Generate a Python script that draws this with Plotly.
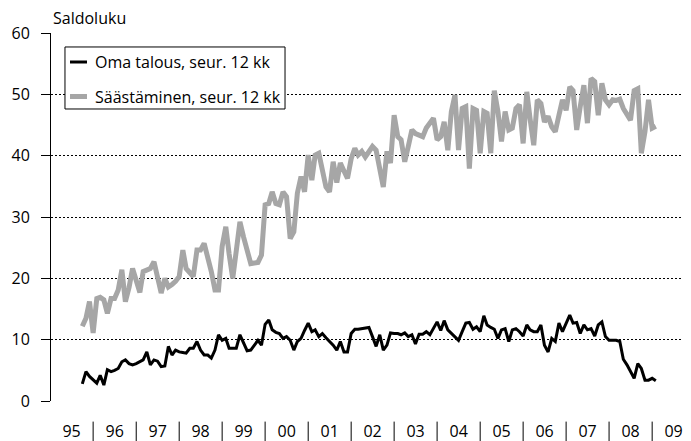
import pandas as pd
import plotly.graph_objects as go

# Monthly balance figures, Oct 1995 - Feb 2009
start_month = "1995-10-01"

oma_talous = [
    2.8, 4.8, 4.0, 3.4, 2.9, 4.2, 2.6, 5.1, 4.8, 5.0, 5.3, 6.4, 6.7, 6.1, 5.9, 6.1,
    6.4, 6.7, 8.0, 5.9, 6.7, 6.5, 5.6, 5.7, 8.9, 7.5, 8.3, 8.0, 7.9, 7.8, 8.6, 8.6,
    9.7, 8.3, 7.5, 7.5, 7.0, 8.3, 10.8, 9.9, 10.2, 8.6, 8.6, 8.6, 10.8, 9.5, 8.2, 8.3,
    9.0, 9.9, 9.1, 12.5, 13.2, 11.6, 11.2, 11.0, 10.2, 10.5, 9.9, 8.3, 9.7, 10.2, 11.5, 12.7,
    11.3, 11.6, 10.5, 11.0, 10.3, 9.7, 9.1, 8.3, 9.7, 8.0, 8.0, 11.0, 11.7, 11.7, 11.8, 11.8,
    12.0, 10.5, 8.9, 10.8, 8.3, 9.1, 11.1, 11.0, 11.0, 10.8, 11.1, 10.5, 10.8, 9.3, 10.9, 10.9,
    11.3, 10.8, 11.8, 12.9, 11.5, 13.1, 11.6, 11.0, 10.5, 9.9, 11.3, 12.7, 12.8, 11.7, 12.1, 11.3,
    13.9, 12.4, 12.0, 11.7, 10.2, 11.6, 11.8, 9.7, 11.6, 11.8, 11.3, 10.6, 12.4, 11.6, 11.3, 11.3,
    12.4, 9.1, 8.0, 10.2, 9.7, 12.7, 11.3, 12.7, 14.0, 12.7, 12.8, 11.0, 12.4, 11.6, 11.8, 10.6,
    12.4, 12.9, 10.5, 9.9, 9.9, 9.9, 9.7, 6.8, 5.9, 4.8, 3.7, 6.1, 5.3, 3.4, 3.4, 3.7,
    3.3,
]

saastaminen = [
    12.2, 13.5, 16.2, 11.1, 16.7, 16.9, 16.5, 14.3, 16.7, 16.7, 18.1, 21.4, 16.2, 18.5, 21.6, 19.7,
    17.7, 21.1, 21.3, 21.6, 22.7, 20.3, 17.6, 20.0, 18.6, 19.0, 19.5, 20.3, 24.6, 21.6, 21.0, 20.3,
    24.6, 24.6, 25.7, 23.5, 21.1, 18.1, 18.1, 25.2, 28.4, 24.0, 20.0, 24.5, 29.2, 26.8, 24.5, 22.4,
    22.5, 22.6, 23.8, 32.0, 32.2, 34.1, 32.2, 32.0, 34.1, 33.3, 26.5, 27.6, 33.9, 36.6, 34.1, 40.1,
    36.0, 40.1, 40.4, 37.5, 34.9, 34.1, 39.0, 35.6, 38.8, 37.5, 36.3, 39.5, 41.2, 40.1, 40.7, 39.8,
    40.6, 41.5, 40.9, 38.0, 34.9, 40.7, 38.8, 46.6, 43.1, 42.6, 39.0, 41.5, 44.2, 43.6, 43.4, 43.1,
    44.5, 45.3, 46.1, 42.6, 43.1, 45.5, 40.9, 47.2, 49.9, 40.9, 47.7, 48.0, 37.9, 47.7, 47.4, 40.4,
    47.2, 46.9, 40.4, 50.6, 47.2, 42.3, 47.2, 44.2, 44.5, 47.7, 48.3, 42.0, 50.4, 46.0, 41.7, 49.1,
    48.5, 45.5, 46.4, 44.7, 43.9, 46.6, 49.1, 47.4, 51.2, 50.6, 44.2, 48.0, 51.5, 45.3, 52.6, 52.1,
    46.6, 51.8, 49.1, 48.3, 49.1, 49.0, 49.2, 47.7, 46.8, 45.8, 50.6, 50.9, 40.4, 43.9, 49.1, 44.5,
    44.8,
]

year_labels = ["95", "96", "97", "98", "99", "00", "01", "02", "03", "04", "05", "06", "07", "08", "09"]
years = list(range(1995, 2010))
y_ticks = [0, 10, 20, 30, 40, 50, 60]

series_names = ["Oma talous, seur. 12 kk", "Säästäminen, seur. 12 kk"]
series_colors = ["#000000", "#a6a6a6"]
series_widths = [3, 5]

dates = pd.date_range(start_month, periods=len(oma_talous), freq="MS")

FONT = "Open Sans"

fig = go.Figure()
for name, vals, col, w in zip(series_names, [oma_talous, saastaminen], series_colors, series_widths):
    fig.add_trace(go.Scatter(
        x=dates, y=vals, mode="lines", name=name,
        line=dict(color=col, width=w), showlegend=False,
    ))

# year separators between the x labels
for yr in years[1:]:
    fig.add_shape(
        type="line", xref="x", yref="paper",
        x0=f"{yr}-01-01", x1=f"{yr}-01-01", y0=-0.056, y1=-0.12,
        line=dict(color="#000000", width=1),
    )

# legend box (drawn manually to match the compact reference legend)
fig.add_shape(
    type="rect", xref="paper", yref="paper",
    x0=0.0219, x1=0.3668, y0=0.7935, y1=0.962,
    line=dict(color="#000000", width=1), fillcolor="white", layer="above",
)
row_y = [0.9212, 0.8274]
for name, col, w, ry in zip(series_names, series_colors, series_widths, row_y):
    fig.add_shape(
        type="line", xref="paper", yref="paper",
        x0=0.0298, x1=0.0564, y0=ry, y1=ry,
        line=dict(color=col, width=w), layer="above",
    )
    fig.add_annotation(
        text=name, xref="paper", yref="paper", x=0.0658, y=ry,
        xanchor="left", yanchor="middle", showarrow=False,
        font=dict(family=FONT, size=16, color="#000000"),
    )

fig.add_annotation(
    text="Saldoluku", xref="paper", yref="paper", x=0.0, y=1.0,
    xanchor="left", yanchor="bottom", yshift=2, showarrow=False,
    font=dict(family=FONT, size=16, color="#000000"),
)

# the page body adds an 8px margin, so the figure is sized to fit the window
fig.update_layout(
    width=683, height=433,
    margin=dict(l=43, r=2, t=25, b=40),
    paper_bgcolor="white", plot_bgcolor="white",
    font=dict(family=FONT, size=16, color="#000000"),
    showlegend=False,
    xaxis=dict(
        type="date",
        range=["1995-01-08", "2009-11-10"],
        tickvals=[f"{y}-07-02" for y in years],
        ticktext=year_labels,
        ticks="", showgrid=False, zeroline=False, showline=False,
        ticklabelstandoff=19, automargin=False,
        tickfont=dict(family=FONT, size=16, color="#000000"),
    ),
    yaxis=dict(
        range=[0, 60], tickvals=y_ticks,
        showgrid=True, gridcolor="#000000", gridwidth=1, griddash="2px,2px",
        zeroline=False, showline=True, linecolor="#000000", linewidth=1,
        ticks="outside", ticklen=9, tickcolor="#000000", tickwidth=1,
        ticklabelstandoff=8, automargin=False,
        tickfont=dict(family=FONT, size=16, color="#000000"),
    ),
)

fig.write_html("out.html")
